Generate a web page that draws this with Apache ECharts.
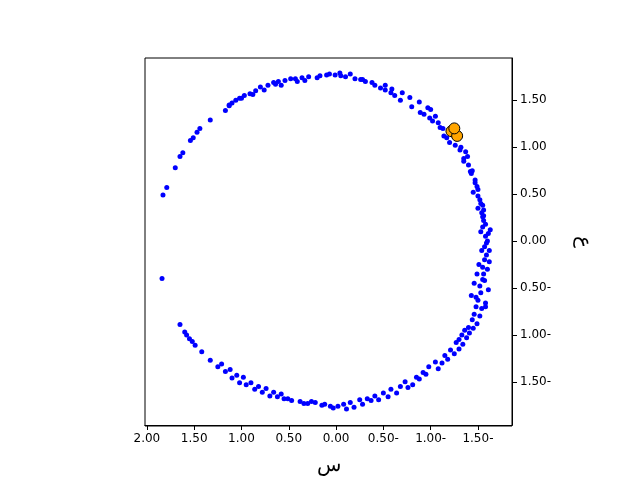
<!DOCTYPE html>
<html><head><meta charset="utf-8">
<script src="https://cdn.jsdelivr.net/npm/echarts@6/dist/echarts.min.js"></script>
<style>body{margin:0}#c{width:640px;height:480px}</style></head>
<body><div id="c"></div>
<script>
// points (x, y)
var xs = [1.83,1.79,1.70,1.65,1.62,1.54,1.51,1.47,1.44,1.33,1.17,1.13,1.10,1.06,1.02,0.97,0.91,0.85,0.80,0.72,0.66,0.61,0.54,0.48,0.43,0.36,0.29,0.17,0.10,0.01,-0.05,-0.10,-0.20,-0.26,-0.31,-0.41,-0.47,-0.52,-0.58,-0.62,-0.68,-0.80,-0.89,-0.93,-0.99,-1.02,-1.10,-1.14,-1.20,-1.26,-1.31,-1.35,-1.40,-1.42,-1.47,-1.49,-1.52,-1.55,-1.54,-1.56,-1.55,-1.58,-1.60,-1.57,-1.59,-1.57,-1.55,-1.56,-1.55,-1.52,-1.50,-1.53,-1.48,-1.44,-1.46,-1.40,-1.33,-1.36,-1.27,-1.21,-1.15,-1.05,-0.98,-0.92,-0.85,-0.73,-0.68,-0.58,-0.50,-0.41,-0.33,-0.25,-0.15,-0.08,0.06,0.12,0.22,0.30,0.38,0.47,0.55,0.62,0.70,0.78,0.86,0.95,1.02,1.10,1.17,1.25,1.33,1.42,1.49,1.55,1.60,1.65,1.84,1.52,1.58,-1.45,-1.50,-1.53,-1.35,-1.30,-1.48,-1.51,
  -1.43,-1.47,-1.50,-1.53,-1.56,-1.58,-1.61,-1.59,-1.62,-1.60,-1.57,-1.61,-1.58,-1.54,-1.52,-1.49,-1.45,-1.41,-1.38,-1.34,-1.30,-1.25,-1.18,-1.12,-1.08,-0.95,-0.88,-0.81,-0.76,-0.64,-0.55,-0.45,-0.37,-0.28,-0.19,-0.11,-0.02,0.03,0.15,0.26,0.34,0.51,0.58,0.66,0.74,0.82,0.90,0.98,1.05,1.12,1.21,-1.05,-1.00,-1.08,-0.97,-0.88,-0.78,-0.70,-0.59,-0.52,-0.38,-0.28,-0.15,-0.04,0.07,0.20,0.33,0.41,0.58,0.64,0.76,0.88,1.00,1.13,-1.17,-1.13,-1.39,-1.44,-1.37,-1.32,-1.50,-1.56,-1.63,-1.54,-1.46,-1.43,-1.49,-1.55,-1.62,-1.58];
var ys = [0.49,0.57,0.78,0.90,0.94,1.07,1.10,1.16,1.20,1.29,1.39,1.44,1.47,1.50,1.52,1.55,1.57,1.60,1.64,1.66,1.69,1.70,1.71,1.73,1.73,1.74,1.75,1.76,1.77,1.77,1.76,1.75,1.73,1.72,1.70,1.66,1.63,1.61,1.58,1.55,1.50,1.43,1.37,1.35,1.31,1.28,1.21,1.12,1.05,1.02,0.97,0.88,0.81,0.74,0.65,0.58,0.44,0.38,0.30,0.22,0.15,0.05,0.00,-0.06,-0.15,-0.20,-0.28,-0.35,-0.41,-0.48,-0.63,-0.55,-0.70,-0.84,-0.78,-0.92,-1.00,-0.95,-1.08,-1.16,-1.22,-1.29,-1.34,-1.40,-1.45,-1.50,-1.55,-1.58,-1.62,-1.65,-1.68,-1.69,-1.72,-1.74,-1.76,-1.74,-1.72,-1.73,-1.71,-1.70,-1.68,-1.66,-1.65,-1.61,-1.58,-1.53,-1.51,-1.46,-1.39,-1.34,-1.27,-1.18,-1.11,-1.04,-0.97,-0.89,-0.40,-1.07,-1.00,0.52,0.35,0.10,0.85,-1.05,-0.60,-0.25,
  0.72,0.62,0.48,0.40,0.27,0.18,0.08,-0.02,-0.10,-0.30,-0.42,-0.52,-0.66,-0.72,-0.80,-0.88,-0.93,-0.98,-1.03,-1.10,-1.15,-1.20,-1.26,-1.30,-1.36,-1.42,-1.47,-1.53,-1.56,-1.62,-1.66,-1.69,-1.70,-1.74,-1.77,-1.79,-1.76,-1.78,-1.75,-1.71,-1.73,-1.68,-1.63,-1.61,-1.57,-1.55,-1.51,-1.45,-1.43,-1.37,-1.31,1.33,1.40,1.26,1.42,1.48,1.53,1.58,1.62,1.66,1.69,1.72,1.78,1.79,1.78,1.74,1.71,1.70,1.66,1.67,1.61,1.56,1.52,1.45,1.10,1.20,0.90,0.75,0.95,1.00,0.55,0.33,0.12,-0.10,-0.45,-0.58,-0.35,0.26,-0.22,-0.70];
var hx = [-1.22,-1.28,-1.25];
var hy = [1.17,1.12,1.20];
var ticks = [-1.5,-1,-0.5,0,0.5,1,1.5,2];
var yticks = [-1.5,-1,-0.5,0,0.5,1,1.5];

function fmt(v){ return v < 0 ? Math.abs(v).toFixed(2) + '-' : v.toFixed(2); }
var pts = xs.map(function(x,i){ return [x, ys[i]]; });
var hl = hx.map(function(x,i){ return [x, hy[i]]; });
var ax = {color:'#000', fontSize:12, fontFamily:'DejaVu Sans', formatter: fmt};
var chart = echarts.init(document.getElementById('c'));
chart.setOption({
  animation:false,
  grid:{left:145, right:128, top:58, bottom:54},
  xAxis:{type:'value', inverse:true, min:-1.86, max:2.02,
    name:'س', nameLocation:'middle', nameGap:30, nameTextStyle:{fontSize:20,color:'#000'},
    axisLine:{onZero:false,lineStyle:{color:'#000'}}, splitLine:{show:false},
    axisTick:{customValues:ticks,lineStyle:{color:'#000'}}, axisLabel:Object.assign({customValues:ticks},ax)},
  yAxis:{type:'value', position:'right', min:-1.96, max:1.95,
    name:'ع', nameLocation:'middle', nameGap:62, nameRotate:-90, nameTextStyle:{fontSize:20,color:'#000'},
    axisLine:{show:true,onZero:false,lineStyle:{color:'#000'}}, splitLine:{show:false},
    axisTick:{show:true,customValues:yticks,lineStyle:{color:'#000'}}, axisLabel:Object.assign({customValues:yticks},ax)},
  series:[
    {type:'scatter', data:pts, symbolSize:5, itemStyle:{color:'#0000ff', opacity:1}},
    {type:'scatter', data:hl, symbolSize:11, itemStyle:{color:'#ffa500', borderColor:'#000', borderWidth:1, opacity:1}}
  ]
});
chart.setOption({graphic:[{type:'rect',shape:{x:145,y:58,width:367,height:368},style:{fill:'none',stroke:'#000',lineWidth:1},silent:true}]});
</script></body></html>
